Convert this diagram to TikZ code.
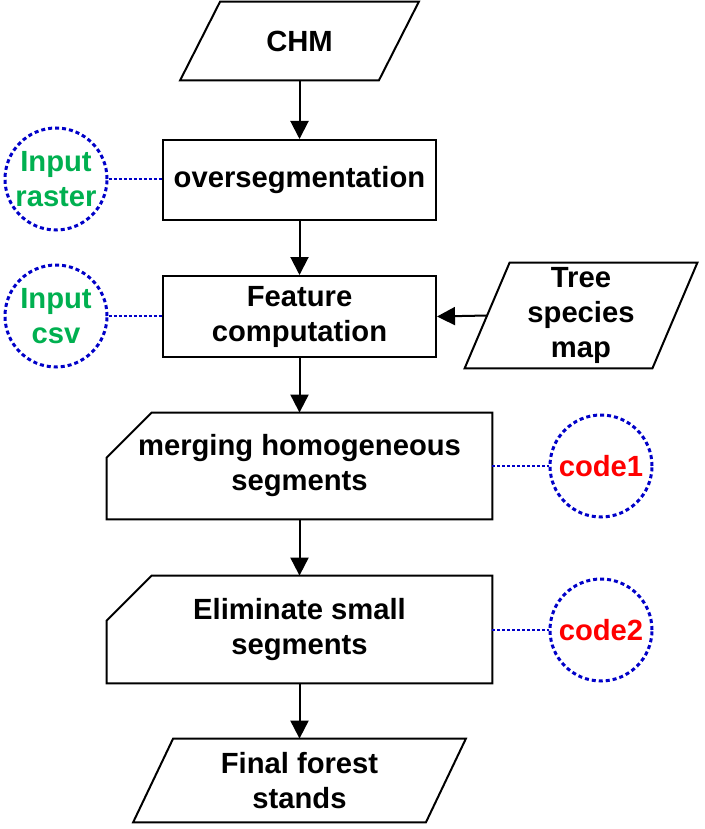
\documentclass[tikz,border=0pt]{standalone}
\usepackage{fontspec}
\setmainfont{Liberation Sans}
\usetikzlibrary{arrows.meta}

\definecolor{tagblue}{RGB}{0,0,200}
\definecolor{taggreen}{RGB}{0,176,80}
\definecolor{tagred}{RGB}{255,0,0}

% parallelogram round a (hidden) node
\newcommand{\ioframe}[2]{\draw[frame] ([xshift=-#2]#1.south west) -- ([xshift=-#2]#1.south east)
  -- ([xshift=#2]#1.north east) -- ([xshift=#2]#1.north west) -- cycle;}
% box with its top left corner cut off
\newcommand{\cutframe}[1]{\draw[frame] (#1.south west) -- (#1.south east) -- (#1.north east)
  -- ([xshift=22.5pt]#1.north west) -- ([yshift=-22.5pt]#1.north west) -- cycle;}

\begin{document}
\begin{tikzpicture}[x=0.5pt,y=-0.5pt,
    font=\fontsize{14.6}{17.5}\selectfont\bfseries,
    every node/.style={align=center,inner sep=0pt},
    frame/.style={line width=1pt,line join=miter},
    stepbox/.style={draw,line width=1pt,minimum width=136.5pt,minimum height=40pt},
    tag/.style={circle,draw=tagblue,line width=1.5pt,dash pattern=on 2pt off 1.5pt,minimum size=51pt},
    link/.style={draw=tagblue,line width=0.9pt,dash pattern=on 1.5pt off 1pt},
    arrow/.style={line width=1pt,-{Triangle[length=9pt,width=9pt]}}]
        \useasboundingbox (0,0) rectangle (705,829);

        \node[minimum width=99pt,minimum height=39pt] (chm) at (299.5,41) {CHM};
        \node[stepbox] (overseg) at (299.5,180) {oversegmentation};
        \node[stepbox,minimum height=40.5pt] (feature) at (299.5,316.5) {Feature\\computation};
        \node[minimum width=93.5pt,minimum height=52.5pt] (tree) at (581,315.5) {Tree\\species\\map};
        \node[minimum width=192.5pt,minimum height=53pt] (merge) at (299.5,466) {merging homogeneous\\segments};
        \node[minimum width=192.5pt,minimum height=53.5pt] (elim) at (299.5,629.5) {Eliminate small\\segments};
        \node[minimum width=146pt,minimum height=41.5pt] (final) at (299.5,780.5) {Final forest\\stands};

        \ioframe{chm}{10pt}
        \ioframe{tree}{11.25pt}
        \ioframe{final}{10pt}
        \cutframe{merge}
        \cutframe{elim}

        \node[tag,text=taggreen] (raster) at (56,179) {Input\\raster};
        \node[tag,text=taggreen] (csv) at (56,316) {Input\\csv};
        \node[tag,text=tagred] (codeA) at (601,466) {code1};
        \node[tag,text=tagred] (codeB) at (601,630) {code2};

        \draw[arrow] (chm) -- (overseg);
        \draw[arrow] (overseg) -- (feature);
        \draw[arrow] (tree.west) -- (feature.east);
        \draw[arrow] (feature) -- (merge);
        \draw[arrow] (merge) -- (elim);
        \draw[arrow] (elim) -- (final);

        \draw[link] (raster) -- (overseg.west |- raster);
        \draw[link] (csv) -- (feature.west |- csv);
        \draw[link] (merge.east |- codeA) -- (codeA);
        \draw[link] (elim.east |- codeB) -- (codeB);
\end{tikzpicture}
\end{document}
